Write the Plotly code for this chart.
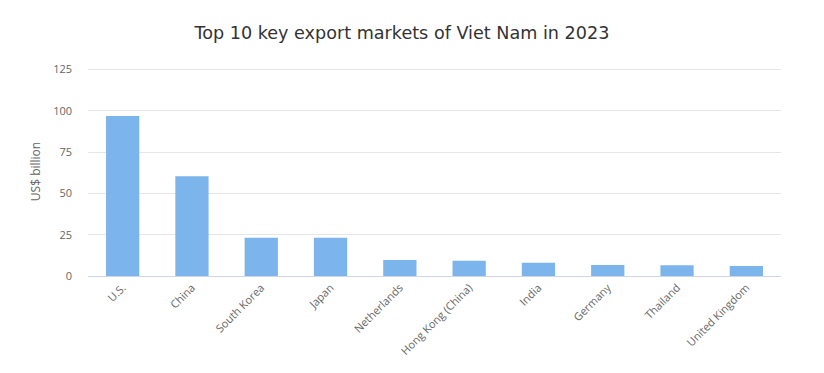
import plotly.graph_objects as go

categories = ["U.S.", "China", "South Korea", "Japan", "Netherlands",
              "Hong Kong (China)", "India", "Germany", "Thailand", "United Kingdom"]
values = [96.8, 60.4, 23.2, 23.1, 9.7, 9.2, 8.0, 6.6, 6.5, 6.1]
y_ticks = [0, 25, 50, 75, 100, 125]

fig = go.Figure(go.Bar(
    x=categories, y=values,
    marker=dict(color="#7cb5ec", line=dict(width=0)),
    hovertemplate="%{x}: %{y}<extra></extra>",
))

fig.update_layout(
    width=824, height=373,
    margin=dict(l=80, r=51, t=59, b=105, autoexpand=False),
    paper_bgcolor="white", plot_bgcolor="white",
    bargap=0.52,
    showlegend=False,
    title=dict(text="Top 10 key export markets of Viet Nam in 2023",
               xref="paper", x=0.453, xanchor="center", y=0.933, yanchor="middle",
               font=dict(family="DejaVu Sans", size=17.6, color="#333333")),
    font=dict(family="Open Sans", color="#666666", size=11),
)
fig.update_xaxes(
    tickangle=-45, showline=True, linecolor="#ccd6eb", linewidth=1,
    showgrid=False, ticks="", tickfont=dict(size=11, color="#666666"),
)
fig.update_yaxes(
    range=[0, 126.5], tickvals=y_ticks, showgrid=True, gridcolor="#e6e6e6",
    zeroline=False, showline=False, ticks="", ticklabelstandoff=15,
    tickfont=dict(size=11, color="#666666"),
    title=dict(text="US$ billion", font=dict(size=12, color="#666666"), standoff=9),
)

fig.write_html("out.html")
